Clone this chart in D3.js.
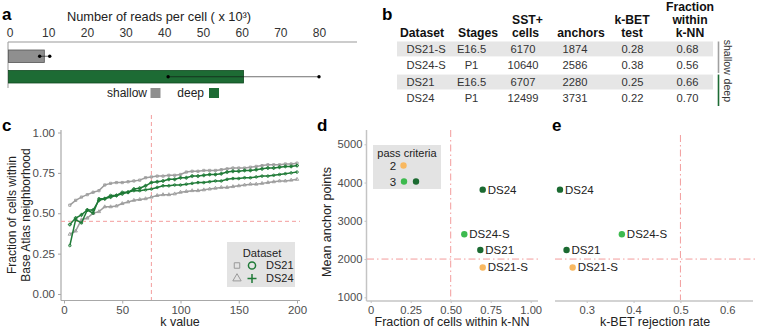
<!DOCTYPE html>
<html><head><meta charset="utf-8">
<script src="https://cdn.jsdelivr.net/npm/d3@7"></script>
<style>
body{margin:0;background:#fff;}
svg{display:block;font-family:"Liberation Sans",Arial,sans-serif;}
</style></head><body>
<svg id="chart" width="757" height="336"></svg>
<script>
// ---------------- data ----------------
const readCategories = ["shallow", "deep"];
const readMeans = [9, 60.5];
const readLow = [7.8, 41];
const readHigh = [10.4, 80];
const readTicks = [0, 10, 20, 30, 40, 50, 60, 70, 80];

const tableDatasets = ["DS21-S", "DS24-S", "DS21", "DS24"];
const tableStages = ["E16.5", "P1", "E16.5", "P1"];
const tableCells = ["6170", "10640", "6707", "12499"];
const tableAnchors = ["1874", "2586", "2280", "3731"];
const tableKbet = ["0.28", "0.38", "0.25", "0.22"];
const tableFrac = ["0.68", "0.56", "0.66", "0.70"];
const tableDepth = ["shallow", "shallow", "deep", "deep"];

const kValues = [5,10,15,20,25,30,35,40,45,50,55,60,65,70,75,80,85,90,95,100,
  105,110,115,120,125,130,135,140,145,150,155,160,165,170,175,180,185,190,195,200];
const fracDS21S = [0.55,0.58,0.60,0.615,0.63,0.64,0.675,0.685,0.69,0.69,0.695,0.70,0.705,0.72,0.725,0.73,0.73,0.735,0.735,0.74,
  0.755,0.76,0.76,0.765,0.765,0.765,0.77,0.775,0.78,0.78,0.78,0.785,0.79,0.795,0.80,0.80,0.80,0.805,0.805,0.81];
const fracDS24S = [0.37,0.39,0.46,0.47,0.50,0.51,0.54,0.54,0.545,0.56,0.57,0.58,0.585,0.59,0.60,0.61,0.615,0.615,0.62,0.63,
  0.635,0.64,0.64,0.645,0.65,0.655,0.66,0.66,0.665,0.67,0.675,0.68,0.68,0.685,0.69,0.695,0.70,0.70,0.705,0.71];
const fracDS21 = [0.30,0.46,0.44,0.52,0.50,0.59,0.59,0.61,0.61,0.63,0.63,0.64,0.64,0.645,0.65,0.66,0.67,0.67,0.675,0.675,
  0.68,0.685,0.69,0.69,0.695,0.70,0.70,0.71,0.715,0.715,0.72,0.72,0.725,0.73,0.73,0.735,0.74,0.745,0.75,0.755];
const fracDS24 = [0.43,0.47,0.49,0.52,0.52,0.58,0.59,0.60,0.61,0.62,0.63,0.65,0.655,0.67,0.69,0.695,0.70,0.71,0.71,0.72,
  0.72,0.73,0.73,0.735,0.74,0.74,0.745,0.755,0.76,0.76,0.765,0.765,0.77,0.775,0.78,0.78,0.785,0.79,0.79,0.795];
const kTicks = [0, 50, 100, 150, 200];
const fracTicks = [0, 0.25, 0.5, 0.75, 1];
const kThreshold = 75;
const fracThreshold = 0.45;

const scatterNames = ["DS24", "DS24-S", "DS21", "DS21-S"];
const scatterFrac = [0.70, 0.585, 0.685, 0.70];
const scatterAnchors = [3815, 2650, 2235, 1780];
const scatterKbet = [0.243, 0.375, 0.257, 0.27];
const scatterPass = [3, 3, 3, 2];
const scatterDepth = ["deep", "shallow", "deep", "shallow"];
const anchorTicks = [1000, 2000, 3000, 4000, 5000];
const knnTicks = [0, 0.25, 0.5, 0.75, 1];
const kbetTicks = [0.3, 0.4, 0.5, 0.6];
const anchorThreshold = 2000;
const knnThreshold = 0.5;
const kbetThreshold = 0.5;

// ---------------- drawing ----------------
const svg = d3.select("#chart");
svg.append("rect").attr("width", 757).attr("height", 336).attr("fill", "#fff");

const TXT = "#222", TICK = "#4d4d4d", AXIS = "#a8a8a8", REF = "#f39c9c";
const GREY = "#8f8f8f", DGREEN = "#1d6b34";

function panelLabel(t, x, y) {
  svg.append("text").attr("x", x).attr("y", y).text(t)
    .attr("font-size", 17).attr("font-weight", "bold").attr("fill", "#000");
}
panelLabel("a", 2, 20); panelLabel("b", 382, 20);
panelLabel("c", 2, 131); panelLabel("d", 317, 131); panelLabel("e", 552, 131);

// ---- panel a ----
const xA = d3.scaleLinear().domain([0, 80]).range([9.5, 319]);
const yA = d3.scaleBand().domain(readCategories).range([50, 83]).paddingInner(0.39);
const gA = svg.append("g");
gA.append("text").attr("x", 159).attr("y", 21).attr("text-anchor", "middle")
  .attr("font-size", 12.8).attr("fill", TXT).text("Number of reads per cell ( x 10³)");
const axA = gA.append("g").attr("transform", "translate(0,42)")
  .call(d3.axisTop(xA).tickValues(readTicks).tickSize(0).tickPadding(5));
axA.select(".domain").remove();
axA.selectAll("text").attr("font-size", 12).attr("fill", "#333").attr("font-family", null);
gA.append("line").attr("x1", 8).attr("x2", 357).attr("y1", 42).attr("y2", 42).attr("stroke", "#999");
gA.append("line").attr("x1", 8).attr("x2", 8).attr("y1", 42).attr("y2", 88).attr("stroke", "#999");
const fillA = d3.scaleOrdinal().domain(readCategories).range([GREY, DGREEN]);
const strokeA = d3.scaleOrdinal().domain(readCategories).range(["#555", "#0f4a20"]);
readCategories.forEach((c, i) => {
  gA.append("rect").attr("x", xA(0) - 1).attr("y", yA(c))
    .attr("width", xA(readMeans[i]) - xA(0) + 1).attr("height", yA.bandwidth())
    .attr("fill", fillA(c)).attr("stroke", strokeA(c)).attr("stroke-width", 0.8);
  const cy = yA(c) + yA.bandwidth() / 2;
  gA.append("line").attr("x1", xA(readLow[i])).attr("x2", xA(readHigh[i]))
    .attr("y1", cy).attr("y2", cy).attr("stroke", "#111").attr("stroke-width", 0.6);
  [readLow[i], readHigh[i]].forEach(v => gA.append("circle").attr("cx", xA(v)).attr("cy", cy)
    .attr("r", 1.7).attr("fill", "#000"));
});
// legend a
gA.append("text").attr("x", 147).attr("y", 97).attr("text-anchor", "end").attr("font-size", 12)
  .attr("fill", TXT).text("shallow");
gA.append("rect").attr("x", 150.5).attr("y", 88).attr("width", 10).attr("height", 10).attr("fill", GREY);
gA.append("text").attr("x", 204).attr("y", 97).attr("text-anchor", "end").attr("font-size", 12)
  .attr("fill", TXT).text("deep");
gA.append("rect").attr("x", 209).attr("y", 88).attr("width", 10).attr("height", 10).attr("fill", DGREEN);

// ---- panel b (table) ----
const gB = svg.append("g");
const rowY = d3.scaleBand().domain(d3.range(tableDatasets.length)).range([41.5, 106]).paddingInner(0.1);
const hdr = [
  {x: 400, a: "start", lines: ["Dataset"]},
  {x: 458, a: "start", lines: ["Stages"]},
  {x: 512, a: "start", lines: ["SST+", "cells"]},
  {x: 581, a: "middle", lines: ["anchors"]},
  {x: 632, a: "middle", lines: ["k-BET", "test"]},
  {x: 690, a: "middle", lines: ["Fraction", "within", "k-NN"]}
];
hdr.forEach(h => {
  const n = h.lines.length;
  h.lines.forEach((l, j) => gB.append("text").attr("x", h.x).attr("y", 37 - (n - 1 - j) * 13)
    .attr("text-anchor", h.a).attr("font-size", 12.2).attr("font-weight", "bold").attr("fill", "#111").text(l));
});
tableDatasets.forEach((d, i) => {
  const y0 = rowY(i), cy = y0 + rowY.bandwidth() / 2;
  if (i % 2 === 0) gB.append("rect").attr("x", 397).attr("y", y0).attr("width", 316)
    .attr("height", rowY.bandwidth()).attr("fill", "#e6e6e6");
  const cells = [
    {x: 406.5, a: "start", t: d},
    {x: 471.5, a: "middle", t: tableStages[i]},
    {x: 523, a: "middle", t: tableCells[i]},
    {x: 575, a: "middle", t: tableAnchors[i]},
    {x: 632.5, a: "middle", t: tableKbet[i]},
    {x: 687.5, a: "middle", t: tableFrac[i]}
  ];
  cells.forEach(c => gB.append("text").attr("x", c.x).attr("y", cy).attr("dy", "0.35em")
    .attr("text-anchor", c.a).attr("font-size", 11.2).attr("fill", "#333").text(c.t));
});
["shallow", "deep"].forEach(dep => {
  const idx = tableDepth.map((v, i) => v === dep ? i : -1).filter(i => i >= 0);
  const y1 = rowY(idx[0]), y2 = rowY(idx[idx.length - 1]) + rowY.bandwidth();
  gB.append("line").attr("x1", 718.5).attr("x2", 718.5).attr("y1", y1).attr("y2", y2)
    .attr("stroke", dep === "deep" ? DGREEN : "#a0a0a0").attr("stroke-width", 1.6);
  gB.append("text").attr("transform", `translate(724,${(y1 + y2) / 2}) rotate(90)`)
    .attr("text-anchor", "middle").attr("font-size", 10.5).attr("fill", "#333").text(dep);
});

// ---- panel c ----
const xC = d3.scaleLinear().domain([0, 200]).range([64, 297]);
const yC = d3.scaleLinear().domain([0, 1]).range([294, 132.5]);
const gC = svg.append("g");
gC.append("line").attr("x1", 61).attr("x2", 61).attr("y1", 130).attr("y2", 300.5).attr("stroke", AXIS).attr("stroke-width", 1.2);
gC.append("line").attr("x1", 61).attr("x2", 300).attr("y1", 300.5).attr("y2", 300.5).attr("stroke", AXIS).attr("stroke-width", 1.2);
const axCy = gC.append("g").attr("transform", "translate(61,0)")
  .call(d3.axisLeft(yC).tickValues(fracTicks).tickFormat(d3.format(".2f")).tickSize(3).tickPadding(3));
const axCx = gC.append("g").attr("transform", "translate(0,300.5)")
  .call(d3.axisBottom(xC).tickValues(kTicks).tickSize(3).tickPadding(2));
[axCy, axCx].forEach(a => {
  a.select(".domain").remove();
  a.selectAll("line").attr("stroke", AXIS);
  a.selectAll("text").attr("font-size", 11.5).attr("fill", TICK).attr("font-family", null);
});
gC.append("text").attr("x", 180).attr("y", 326).attr("text-anchor", "middle").attr("font-size", 12.5)
  .attr("fill", TXT).text("k value");
const ytC = gC.append("text").attr("transform", "translate(17,215) rotate(-90)")
  .attr("text-anchor", "middle").attr("font-size", 12).attr("fill", TXT);
ytC.append("tspan").attr("x", 0).attr("dy", "-0.1em").text("Fraction of cells within");
ytC.append("tspan").attr("x", 0).attr("dy", "1.15em").text("Base Atlas neighborhood");
// reference lines
gC.append("line").attr("x1", xC(kThreshold)).attr("x2", xC(kThreshold)).attr("y1", 115).attr("y2", 300)
  .attr("stroke", REF).attr("stroke-dasharray", "4,3");
gC.append("line").attr("x1", 61).attr("x2", 300).attr("y1", yC(fracThreshold)).attr("y2", yC(fracThreshold))
  .attr("stroke", REF).attr("stroke-dasharray", "4,3");
const seriesC = [
  {name: "DS21-S", vals: fracDS21S, color: "#9d9d9d", sym: d3.symbolSquare},
  {name: "DS24-S", vals: fracDS24S, color: "#9d9d9d", sym: d3.symbolTriangle},
  {name: "DS21", vals: fracDS21, color: "#1f7a37", sym: d3.symbolCircle},
  {name: "DS24", vals: fracDS24, color: "#1f7a37", sym: d3.symbolCross}
];
const lineC = d3.line().x((d, i) => xC(kValues[i])).y(d => yC(d));
seriesC.forEach(s => {
  gC.append("path").attr("d", lineC(s.vals)).attr("fill", "none")
    .attr("stroke", s.color).attr("stroke-width", 1.5);
  gC.selectAll(null).data(s.vals).enter().append("path")
    .attr("transform", (d, i) => `translate(${xC(kValues[i])},${yC(d)})`)
    .attr("d", d3.symbol().type(s.sym).size(5))
    .attr("fill", "none").attr("stroke", s.color).attr("stroke-width", 0.9);
});
// legend c
const lgC = gC.append("g");
lgC.append("rect").attr("x", 227).attr("y", 242).attr("width", 68).attr("height", 45).attr("fill", "#e3e3e3");
lgC.append("text").attr("x", 262).attr("y", 257).attr("text-anchor", "middle").attr("font-size", 11.2)
  .attr("fill", TXT).text("Dataset");
[["DS21", d3.symbolSquare, d3.symbolCircle, 265.5], ["DS24", d3.symbolTriangle, d3.symbolCross, 278.5]].forEach(r => {
  lgC.append("path").attr("transform", `translate(237,${r[3]})`).attr("d", d3.symbol().type(r[1]).size(30))
    .attr("fill", "none").attr("stroke", "#999").attr("stroke-width", 1);
  lgC.append("path").attr("transform", `translate(252,${r[3]})`)
    .attr("d", r[2] === d3.symbolCross ? "M-4.5,0H4.5M0,-4.5V4.5" : d3.symbol().type(r[2]).size(40))
    .attr("fill", "none").attr("stroke", "#1f7a37").attr("stroke-width", 1.5);
  lgC.append("text").attr("x", 266).attr("y", r[3]).attr("dy", "0.35em").attr("font-size", 11)
    .attr("fill", TXT).text(r[0]);
});

// ---- panels d & e ----
const colorKey = d3.scaleOrdinal().domain(["2-shallow", "3-shallow", "3-deep"])
  .range(["#f8b860", "#3dba4e", "#1b6a31"]);
const yD = d3.scaleLinear().domain([1000, 5000]).range([297.3, 144.3]);
const xD = d3.scaleLinear().domain([0, 1]).range([370.7, 530.7]);
const xE = d3.scaleLinear().domain([0.3, 0.6]).range([586.7, 727.3]);
const DAX = "#c4c4c4";
const gD = svg.append("g");
gD.append("line").attr("x1", 366.5).attr("x2", 366.5).attr("y1", 130).attr("y2", 301).attr("stroke", DAX).attr("stroke-width", 1.5);
gD.append("line").attr("x1", 366.5).attr("x2", 538).attr("y1", 301).attr("y2", 301).attr("stroke", DAX).attr("stroke-width", 1.5);
const gE = svg.append("g");
gE.append("line").attr("x1", 555).attr("x2", 753).attr("y1", 301).attr("y2", 301).attr("stroke", DAX).attr("stroke-width", 1.5);
const axDy = gD.append("g").attr("transform", "translate(366.5,0)")
  .call(d3.axisLeft(yD).tickValues(anchorTicks).tickFormat(d3.format("d")).tickSize(2).tickPadding(2));
const axDx = gD.append("g").attr("transform", "translate(0,301)")
  .call(d3.axisBottom(xD).tickValues(knnTicks).tickFormat(d => d === 0 ? "0" : d3.format(".2f")(d)).tickSize(2).tickPadding(3));
const axEx = gE.append("g").attr("transform", "translate(0,301)")
  .call(d3.axisBottom(xE).tickValues(kbetTicks).tickFormat(d3.format(".1f")).tickSize(2).tickPadding(3));
[axDy, axDx, axEx].forEach(a => {
  a.select(".domain").remove();
  a.selectAll("line").attr("stroke", DAX);
  a.selectAll("text").attr("font-size", 11.2).attr("fill", TICK).attr("font-family", null);
});
gD.append("text").attr("x", 452).attr("y", 326).attr("text-anchor", "middle").attr("font-size", 12.5)
  .attr("fill", TXT).text("Fraction of cells within k-NN");
gE.append("text").attr("x", 655).attr("y", 326).attr("text-anchor", "middle").attr("font-size", 12.5)
  .attr("fill", TXT).text("k-BET rejection rate");
gD.append("text").attr("transform", "translate(331,222) rotate(-90)").attr("text-anchor", "middle")
  .attr("font-size", 12.5).attr("fill", TXT).text("Mean anchor points");
// reference lines d/e
const DASH = "7,3,1.5,3";
gD.append("line").attr("x1", xD(knnThreshold)).attr("x2", xD(knnThreshold)).attr("y1", 130).attr("y2", 300)
  .attr("stroke", REF).attr("stroke-dasharray", DASH);
gD.append("line").attr("x1", 367).attr("x2", 538).attr("y1", yD(anchorThreshold)).attr("y2", yD(anchorThreshold))
  .attr("stroke", REF).attr("stroke-dasharray", DASH);
gE.append("line").attr("x1", xE(kbetThreshold)).attr("x2", xE(kbetThreshold)).attr("y1", 135).attr("y2", 300)
  .attr("stroke", REF).attr("stroke-dasharray", DASH);
gE.append("line").attr("x1", 555).attr("x2", 757).attr("y1", yD(anchorThreshold)).attr("y2", yD(anchorThreshold))
  .attr("stroke", REF).attr("stroke-dasharray", DASH);
// points
scatterNames.forEach((n, i) => {
  const col = colorKey(scatterPass[i] + "-" + scatterDepth[i]);
  [[gD, xD(scatterFrac[i])], [gE, xE(scatterKbet[i])]].forEach(([g, px]) => {
    const py = yD(scatterAnchors[i]);
    g.append("circle").attr("cx", px).attr("cy", py).attr("r", 3.2).attr("fill", col);
    g.append("text").attr("x", px + 5).attr("y", py).attr("dy", "0.35em").attr("font-size", 11.5)
      .attr("fill", TXT).text(n);
  });
});
// legend d
const lgD = gD.append("g");
lgD.append("rect").attr("x", 373).attr("y", 145).attr("width", 68).attr("height", 44).attr("fill", "#e3e3e3");
lgD.append("text").attr("x", 407).attr("y", 157).attr("text-anchor", "middle").attr("font-size", 11)
  .attr("fill", TXT).text("pass criteria");
lgD.append("text").attr("x", 393).attr("y", 165.5).attr("dy", "0.35em").attr("text-anchor", "middle")
  .attr("font-size", 11.5).attr("fill", TXT).text("2");
lgD.append("circle").attr("cx", 403.5).attr("cy", 165.5).attr("r", 3.2).attr("fill", colorKey("2-shallow"));
lgD.append("text").attr("x", 393).attr("y", 181.5).attr("dy", "0.35em").attr("text-anchor", "middle")
  .attr("font-size", 11.5).attr("fill", TXT).text("3");
lgD.append("circle").attr("cx", 404).attr("cy", 181.5).attr("r", 3.2).attr("fill", colorKey("3-shallow"));
lgD.append("circle").attr("cx", 416).attr("cy", 181.5).attr("r", 3.2).attr("fill", colorKey("3-deep"));
</script>
</body></html>
